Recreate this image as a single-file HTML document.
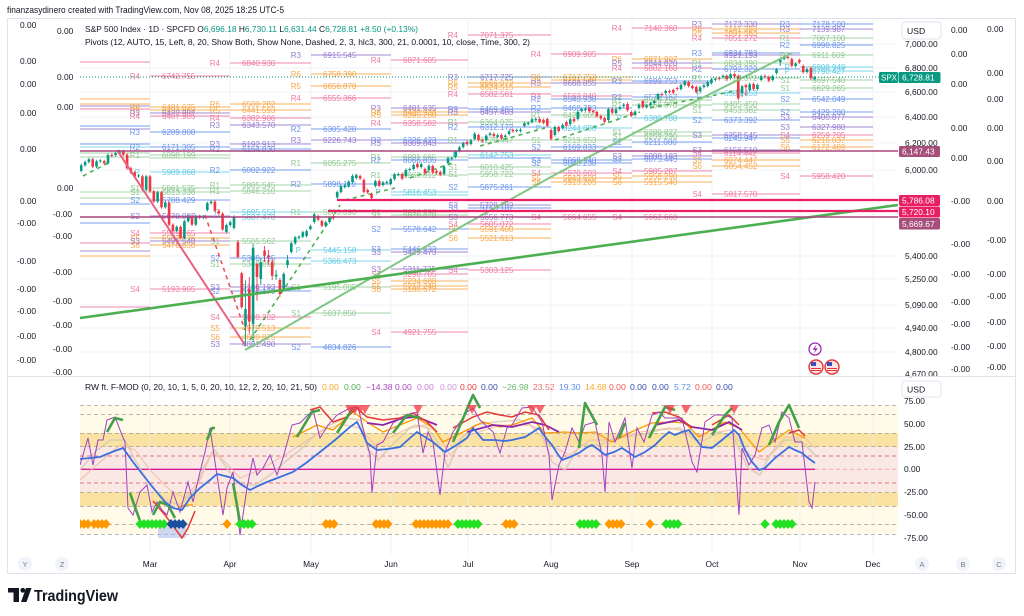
<!DOCTYPE html>
<html><head><meta charset="utf-8">
<style>
html,body{margin:0;padding:0;background:#fff;width:1024px;height:616px;overflow:hidden}
svg{display:block;font-family:"Liberation Sans",sans-serif}
text{font-family:"Liberation Sans",sans-serif}
.pv line{stroke-width:1}
.pv text{font-size:8px}
.lb{text-anchor:end}
line.pk{stroke:#f07ba3} text.pk{fill:#ee6e98}
line.or{stroke:#f9a94b} text.or{fill:#f5a03c}
line.pu{stroke:#9a7fd1} text.pu{fill:#8c6fca}
line.bl{stroke:#6b95ec} text.bl{fill:#5f8ae8}
line.gr{stroke:#9ccf9e} text.gr{fill:#86c489}
line.cy{stroke:#6fd3e8} text.cy{fill:#55c6df}
.ax{font-size:8.4px;fill:#131722}
.sc{font-size:8.4px;fill:#131722}
</style></head>
<body>
<svg width="1024" height="616" viewBox="0 0 1024 616" xmlns="http://www.w3.org/2000/svg">
<defs>
<clipPath id="cm"><rect x="80" y="19" width="818" height="357"/></clipPath>
<clipPath id="ci"><rect x="80" y="377" width="818" height="177"/></clipPath>
</defs>
<rect width="1024" height="616" fill="#fff"/>
<text x="7" y="13" font-size="9.5" fill="#131722" textLength="277" lengthAdjust="spacingAndGlyphs">finanzasydinero created with TradingView.com, Nov 08, 2025 18:25 UTC-5</text>
<rect x="7.5" y="18.5" width="1008" height="555" fill="#fff" stroke="#e0e3eb"/>

<!-- ===== MAIN PANE ===== -->
<g clip-path="url(#cm)">
<g stroke="#f0f3fa" stroke-width="1">
<line x1="80" y1="44" x2="898" y2="44"/><line x1="80" y1="68" x2="898" y2="68"/><line x1="80" y1="92" x2="898" y2="92"/><line x1="80" y1="117" x2="898" y2="117"/><line x1="80" y1="143" x2="898" y2="143"/><line x1="80" y1="170" x2="898" y2="170"/><line x1="80" y1="256" x2="898" y2="256"/><line x1="80" y1="279" x2="898" y2="279"/><line x1="80" y1="305" x2="898" y2="305"/><line x1="80" y1="328" x2="898" y2="328"/><line x1="80" y1="352" x2="898" y2="352"/>
<line x1="150" y1="19" x2="150" y2="376"/><line x1="230" y1="19" x2="230" y2="376"/><line x1="311" y1="19" x2="311" y2="376"/><line x1="391" y1="19" x2="391" y2="376"/><line x1="468" y1="19" x2="468" y2="376"/><line x1="551" y1="19" x2="551" y2="376"/><line x1="632" y1="19" x2="632" y2="376"/><line x1="712" y1="19" x2="712" y2="376"/><line x1="800" y1="19" x2="800" y2="376"/><line x1="873" y1="19" x2="873" y2="376"/>
</g>

<g class="pv" opacity="0.9">
<!-- block0 -->
<line class="pk" x1="80" x2="150" y1="62" y2="62"/><line class="or" x1="80" x2="150" y1="99" y2="99"/><line class="or" x1="80" x2="150" y1="104" y2="104"/><line class="pu" x1="80" x2="150" y1="106" y2="106"/><line class="pk" x1="80" x2="150" y1="109" y2="109"/><line class="bl" x1="80" x2="150" y1="126" y2="126"/><line class="pu" x1="80" x2="150" y1="129" y2="129"/><line class="bl" x1="80" x2="150" y1="144" y2="144"/><line class="cy" x1="80" x2="150" y1="147" y2="147"/><line class="gr" x1="80" x2="150" y1="153" y2="153"/><line class="gr" x1="80" x2="150" y1="157" y2="157"/><line class="gr" x1="80" x2="150" y1="192" y2="192"/><line class="gr" x1="80" x2="150" y1="198" y2="198"/><line class="bl" x1="80" x2="150" y1="204" y2="204"/><line class="bl" x1="80" x2="150" y1="223" y2="223"/><line class="pk" x1="80" x2="150" y1="243" y2="243"/><line class="pu" x1="80" x2="150" y1="251" y2="251"/><line class="or" x1="80" x2="150" y1="256" y2="256"/><line class="pk" x1="80" x2="150" y1="307" y2="307"/>
<!-- block1 -->
<line class="pk" x1="150" x2="230" y1="76" y2="76"/><text class="pk lb" x="140" y="79">R4</text><text class="pk" x="162" y="79">6742.755</text>
<line class="or" x1="150" x2="230" y1="107" y2="107"/><text class="or lb" x="140" y="110">R6</text><text class="or" x="162" y="110">6481.075</text>
<line class="or" x1="150" x2="230" y1="110" y2="110"/><text class="or lb" x="140" y="113">R5</text><text class="or" x="162" y="113">6433.983</text>
<line class="pu" x1="150" x2="230" y1="113" y2="113"/><text class="pu lb" x="140" y="116">R3</text><text class="pu" x="162" y="116">6422.981</text>
<line class="pk" x1="150" x2="230" y1="116" y2="116"/><text class="pk lb" x="140" y="119">R4</text><text class="pk" x="162" y="119">6407.985</text>
<line class="bl" x1="150" x2="230" y1="132" y2="132"/><text class="bl lb" x="140" y="135">R3</text><text class="bl" x="162" y="135">6289.808</text>
<line class="bl" x1="150" x2="230" y1="147" y2="147"/><text class="bl lb" x="140" y="150">R2</text><text class="bl" x="162" y="150">6171.305</text>
<line class="gr" x1="150" x2="230" y1="155" y2="155"/><text class="gr lb" x="140" y="158">R1</text><text class="gr" x="162" y="158">6098.199</text>
<line class="gr" x1="150" x2="230" y1="158" y2="158"/>
<line class="cy" x1="150" x2="230" y1="172" y2="172"/><text class="cy lb" x="140" y="175">P</text><text class="cy" x="162" y="175">5989.868</text>
<line class="gr" x1="150" x2="230" y1="188" y2="188"/><text class="gr lb" x="140" y="191">S1</text><text class="gr" x="162" y="191">5861.535</text>
<line class="gr" x1="150" x2="230" y1="192" y2="192"/><text class="gr lb" x="140" y="195">S1</text><text class="gr" x="162" y="195">5813.336</text>
<line class="bl" x1="150" x2="230" y1="200" y2="200"/><text class="bl lb" x="140" y="203">S2</text><text class="bl" x="162" y="203">5788.429</text>
<line class="pu" x1="150" x2="230" y1="216" y2="216"/><text class="pu lb" x="140" y="219">S2</text><text class="pu" x="162" y="219">5670.087</text>
<line class="pk" x1="150" x2="230" y1="233" y2="233"/><text class="pk lb" x="140" y="236">S4</text><text class="pk" x="162" y="236">5529.765</text>
<line class="or" x1="150" x2="230" y1="238" y2="238"/><text class="or lb" x="140" y="241">S5</text><text class="or" x="162" y="241">5503.876</text>
<line class="pu" x1="150" x2="230" y1="241" y2="241"/><text class="pu lb" x="140" y="244">S3</text><text class="pu" x="162" y="244">5491.540</text>
<line class="or" x1="150" x2="230" y1="245" y2="245"/><text class="or lb" x="140" y="248">S6</text><text class="or" x="162" y="248">5478.650</text>
<line class="pk" x1="150" x2="230" y1="289" y2="289"/><text class="pk lb" x="140" y="292">S4</text><text class="pk" x="162" y="292">5193.905</text>
<!-- block2 -->
<line class="pk" x1="230" x2="311" y1="63" y2="63"/><text class="pk lb" x="220" y="66">R4</text><text class="pk" x="242" y="66">6840.930</text>
<line class="or" x1="230" x2="311" y1="104" y2="104"/><text class="or lb" x="220" y="107">R6</text><text class="or" x="242" y="107">6500.282</text>
<line class="or" x1="230" x2="311" y1="110" y2="110"/><text class="or lb" x="220" y="113">R5</text><text class="or" x="242" y="113">6441.593</text>
<line class="pk" x1="230" x2="311" y1="118" y2="118"/><text class="pk lb" x="220" y="121">R4</text><text class="pk" x="242" y="121">6382.906</text>
<line class="pu" x1="230" x2="311" y1="125" y2="125"/><text class="pu lb" x="220" y="128">R3</text><text class="pu" x="242" y="128">6343.570</text>
<line class="pu" x1="230" x2="311" y1="144" y2="144"/><text class="pu lb" x="220" y="147">R3</text><text class="pu" x="242" y="147">6192.913</text>
<line class="bl" x1="230" x2="311" y1="149" y2="149"/><text class="bl lb" x="220" y="152">R2</text><text class="bl" x="242" y="152">6164.830</text>
<line class="bl" x1="230" x2="311" y1="170" y2="170"/><text class="bl lb" x="220" y="173">R2</text><text class="bl" x="242" y="173">6002.922</text>
<line class="gr" x1="230" x2="311" y1="185" y2="185"/><text class="gr lb" x="220" y="188">R1</text><text class="gr" x="242" y="188">5885.545</text>
<line class="gr" x1="230" x2="311" y1="191" y2="191"/><text class="gr lb" x="220" y="194">R1</text><text class="gr" x="242" y="194">5846.210</text>
<line class="cy" x1="230" x2="311" y1="212" y2="212"/><text class="cy lb" x="220" y="215">P</text><text class="cy" x="242" y="215">5695.553</text>
<line class="cy" x1="230" x2="311" y1="217" y2="217"/><text class="cy" x="242" y="220">5687.478</text>
<line class="gr" x1="230" x2="311" y1="241" y2="241"/><text class="gr lb" x="220" y="244">S1</text><text class="gr" x="242" y="244">5505.562</text>
<line class="bl" x1="230" x2="311" y1="258" y2="258"/><text class="bl lb" x="220" y="261">S2</text><text class="bl" x="242" y="261">5388.195</text>
<line class="gr" x1="230" x2="311" y1="264" y2="264"/><text class="gr lb" x="220" y="267">S1</text><text class="gr" x="242" y="267">5349.859</text>
<line class="pu" x1="230" x2="311" y1="287" y2="287"/><text class="pu lb" x="220" y="290">S3</text><text class="pu" x="242" y="290">5188.193</text>
<line class="bl" x1="230" x2="311" y1="291" y2="291"/><text class="bl lb" x="220" y="294">S2</text><text class="bl" x="242" y="294">5174.179</text>
<line class="pk" x1="230" x2="311" y1="317" y2="317"/><text class="pk lb" x="220" y="320">S4</text><text class="pk" x="242" y="320">5038.202</text>
<line class="or" x1="230" x2="311" y1="328" y2="328"/><text class="or lb" x="220" y="331">S5</text><text class="or" x="242" y="331">4979.513</text>
<line class="or" x1="230" x2="311" y1="337" y2="337"/><text class="or lb" x="220" y="340">S6</text><text class="or" x="242" y="340">4890.825</text>
<line class="pu" x1="230" x2="311" y1="344" y2="344"/><text class="pu lb" x="220" y="347">S3</text><text class="pu" x="242" y="347">4881.490</text>
<!-- block3 -->
<line class="pu" x1="311" x2="391" y1="55" y2="55"/><text class="pu lb" x="301" y="58">R3</text><text class="pu" x="323" y="58">6915.545</text>
<line class="or" x1="311" x2="391" y1="74" y2="74"/><text class="or lb" x="301" y="77">R6</text><text class="or" x="323" y="77">6758.390</text>
<line class="or" x1="311" x2="391" y1="86" y2="86"/><text class="or lb" x="301" y="89">R5</text><text class="or" x="323" y="89">6656.878</text>
<line class="pk" x1="311" x2="391" y1="98" y2="98"/><text class="pk lb" x="301" y="101">R4</text><text class="pk" x="323" y="101">6555.366</text>
<line class="bl" x1="311" x2="391" y1="129" y2="129"/><text class="bl lb" x="301" y="132">R2</text><text class="bl" x="323" y="132">6305.428</text>
<line class="pu" x1="311" x2="391" y1="140" y2="140"/><text class="pu lb" x="301" y="143">R3</text><text class="pu" x="323" y="143">6226.743</text>
<line class="gr" x1="311" x2="391" y1="163" y2="163"/><text class="gr lb" x="301" y="166">R1</text><text class="gr" x="323" y="166">6055.275</text>
<line class="bl" x1="311" x2="391" y1="184" y2="184"/><text class="bl lb" x="301" y="187">R2</text><text class="bl" x="323" y="187">5898.110</text>
<line class="gr" x1="311" x2="391" y1="212" y2="212"/><text class="gr lb" x="301" y="215">R1</text><text class="gr" x="323" y="215">5803.096</text>
<line class="cy" x1="311" x2="391" y1="250" y2="250"/><text class="cy lb" x="301" y="253">P</text><text class="cy" x="323" y="253">5445.158</text>
<line class="cy" x1="311" x2="391" y1="261" y2="261"/><text class="cy" x="323" y="264">5366.473</text>
<line class="gr" x1="311" x2="391" y1="287" y2="287"/><text class="gr lb" x="301" y="290">S1</text><text class="gr" x="323" y="290">5195.005</text>
<line class="gr" x1="311" x2="391" y1="313" y2="313"/><text class="gr lb" x="301" y="316">S1</text><text class="gr" x="323" y="316">5037.850</text>
<line class="bl" x1="311" x2="391" y1="347" y2="347"/><text class="bl lb" x="301" y="350">S2</text><text class="bl" x="323" y="350">4834.826</text>
<!-- block4 -->
<line class="pk" x1="391" x2="468" y1="60" y2="60"/><text class="pk lb" x="381" y="63">R4</text><text class="pk" x="403" y="63">6871.605</text>
<line class="pu" x1="391" x2="468" y1="108" y2="108"/><text class="pu lb" x="381" y="111">R3</text><text class="pu" x="403" y="111">6481.635</text>
<line class="or" x1="391" x2="468" y1="112" y2="112"/><text class="or lb" x="381" y="115">R6</text><text class="or" x="403" y="115">6430.938</text>
<line class="or" x1="391" x2="468" y1="115" y2="115"/><text class="or lb" x="381" y="118">R5</text><text class="or" x="403" y="118">6395.260</text>
<line class="pk" x1="391" x2="468" y1="123" y2="123"/><text class="pk lb" x="381" y="126">R4</text><text class="pk" x="403" y="126">6358.582</text>
<line class="bl" x1="391" x2="468" y1="140" y2="140"/><text class="bl lb" x="381" y="143">R2</text><text class="bl" x="403" y="143">6326.423</text>
<line class="pu" x1="391" x2="468" y1="143" y2="143"/><text class="pu lb" x="381" y="146">R3</text><text class="pu" x="403" y="146">6309.843</text>
<line class="gr" x1="391" x2="468" y1="157" y2="157"/><text class="gr lb" x="381" y="160">R1</text><text class="gr" x="403" y="160">6091.665</text>
<line class="bl" x1="391" x2="468" y1="160" y2="160"/><text class="bl lb" x="381" y="163">R2</text><text class="bl" x="403" y="163">6066.835</text>
<line class="gr" x1="391" x2="468" y1="175" y2="175"/><text class="gr lb" x="381" y="178">R1</text><text class="gr" x="403" y="178">5968.812</text>
<line class="cy" x1="391" x2="468" y1="192" y2="192"/><text class="cy lb" x="381" y="195">P</text><text class="cy" x="403" y="195">5816.453</text>
<line class="cy" x1="391" x2="468" y1="195" y2="195"/>
<line class="gr" x1="391" x2="468" y1="212" y2="212"/><text class="gr lb" x="381" y="215">S1</text><text class="gr" x="403" y="215">5696.298</text>
<line class="gr" x1="391" x2="468" y1="215" y2="215"/><text class="gr lb" x="381" y="218">S1</text><text class="gr" x="403" y="218">5676.878</text>
<line class="bl" x1="391" x2="468" y1="229" y2="229"/><text class="bl lb" x="381" y="232">S2</text><text class="bl" x="403" y="232">5578.642</text>
<line class="bl" x1="391" x2="468" y1="249" y2="249"/><text class="bl lb" x="381" y="252">S3</text><text class="bl" x="403" y="252">5446.433</text>
<line class="pu" x1="391" x2="468" y1="252" y2="252"/><text class="pu lb" x="381" y="255">S3</text><text class="pu" x="403" y="255">5429.473</text>
<line class="pu" x1="391" x2="468" y1="269" y2="269"/><text class="pu lb" x="381" y="272">S3</text><text class="pu" x="403" y="272">5311.725</text>
<line class="pk" x1="391" x2="468" y1="274" y2="274"/><text class="pk lb" x="381" y="277">S4</text><text class="pk" x="403" y="277">5290.705</text>
<line class="or" x1="391" x2="468" y1="281" y2="281"/><text class="or lb" x="381" y="284">S5</text><text class="or" x="403" y="284">5234.688</text>
<line class="or" x1="391" x2="468" y1="286" y2="286"/><text class="or lb" x="381" y="289">S5</text><text class="or" x="403" y="289">5212.240</text>
<line class="or" x1="391" x2="468" y1="289" y2="289"/><text class="or lb" x="381" y="292">S6</text><text class="or" x="403" y="292">5188.672</text>
<line class="pk" x1="391" x2="468" y1="332" y2="332"/><text class="pk lb" x="381" y="335">S4</text><text class="pk" x="403" y="335">4921.755</text>
<!-- block5 -->
<line class="pk" x1="468" x2="551" y1="35" y2="35"/><text class="pk lb" x="458" y="38">R4</text><text class="pk" x="480" y="38">7071.375</text>
<line class="pu" x1="468" x2="551" y1="77" y2="77"/><text class="pu lb" x="458" y="80">R3</text><text class="pu" x="480" y="80">6717.725</text>
<line class="or" x1="468" x2="551" y1="83" y2="83"/><text class="or lb" x="458" y="86">R6</text><text class="or" x="480" y="86">6666.072</text>
<line class="or" x1="468" x2="551" y1="87" y2="87"/><text class="or lb" x="458" y="90">R5</text><text class="or" x="480" y="90">6624.515</text>
<line class="pk" x1="468" x2="551" y1="94" y2="94"/><text class="pk lb" x="458" y="97">R4</text><text class="pk" x="480" y="97">6582.561</text>
<line class="bl" x1="468" x2="551" y1="109" y2="109"/><text class="bl lb" x="458" y="112">R3</text><text class="bl" x="480" y="112">6469.483</text>
<line class="pu" x1="468" x2="551" y1="112" y2="112"/><text class="pu lb" x="458" y="115">R3</text><text class="pu" x="480" y="115">6457.483</text>
<line class="gr" x1="468" x2="551" y1="122" y2="122"/><text class="gr lb" x="458" y="125">R1</text><text class="gr" x="480" y="125">6364.075</text>
<line class="bl" x1="468" x2="551" y1="127" y2="127"/><text class="bl lb" x="458" y="130">R2</text><text class="bl" x="480" y="130">6312.172</text>
<line class="gr" x1="468" x2="551" y1="140" y2="140"/><text class="gr lb" x="458" y="143">R1</text><text class="gr" x="480" y="143">6228.447</text>
<line class="cy" x1="468" x2="551" y1="155" y2="155"/><text class="cy lb" x="458" y="158">P</text><text class="cy" x="480" y="158">6142.753</text>
<line class="bl" x1="468" x2="551" y1="158" y2="158"/>
<line class="gr" x1="468" x2="551" y1="167" y2="167"/><text class="gr lb" x="458" y="170">S1</text><text class="gr" x="480" y="170">6010.425</text>
<line class="gr" x1="468" x2="551" y1="174" y2="174"/><text class="gr lb" x="458" y="177">S1</text><text class="gr" x="480" y="177">5958.722</text>
<line class="bl" x1="468" x2="551" y1="187" y2="187"/><text class="bl lb" x="458" y="190">S2</text><text class="bl" x="480" y="190">5875.261</text>
<line class="pu" x1="468" x2="551" y1="205" y2="205"/><text class="pu lb" x="458" y="208">S3</text><text class="pu" x="480" y="208">5728.182</text>
<line class="bl" x1="468" x2="551" y1="208" y2="208"/><text class="bl lb" x="458" y="211">S3</text><text class="bl" x="480" y="211">5718.187</text>
<line class="pu" x1="468" x2="551" y1="217" y2="217"/><text class="pu lb" x="458" y="220">S3</text><text class="pu" x="480" y="220">5656.773</text>
<line class="pk" x1="468" x2="551" y1="224" y2="224"/><text class="pk lb" x="458" y="227">S4</text><text class="pk" x="480" y="227">5605.072</text>
<line class="or" x1="468" x2="551" y1="229" y2="229"/><text class="or lb" x="458" y="232">S5</text><text class="or" x="480" y="232">5591.400</text>
<line class="or" x1="468" x2="551" y1="238" y2="238"/><text class="or lb" x="458" y="241">S6</text><text class="or" x="480" y="241">5521.613</text>
<line class="pk" x1="468" x2="551" y1="270" y2="270"/><text class="pk lb" x="458" y="273">S4</text><text class="pk" x="480" y="273">5303.125</text>
<!-- block6 -->
<line class="pk" x1="551" x2="632" y1="54" y2="54"/><text class="pk lb" x="541" y="57">R4</text><text class="pk" x="563" y="57">6909.905</text>
<line class="or" x1="551" x2="632" y1="77" y2="77"/><text class="or lb" x="541" y="80">R6</text><text class="or" x="563" y="80">6717.753</text>
<line class="or" x1="551" x2="632" y1="80" y2="80"/><text class="or lb" x="541" y="83">R5</text><text class="or" x="563" y="83">6701.540</text>
<line class="pu" x1="551" x2="632" y1="83" y2="83"/><text class="pu lb" x="541" y="86">R3</text><text class="pu" x="563" y="86">6668.855</text>
<line class="pk" x1="551" x2="632" y1="96" y2="96"/><text class="pk lb" x="541" y="99">R3</text><text class="pk" x="563" y="99">6563.840</text>
<line class="bl" x1="551" x2="632" y1="99" y2="99"/><text class="bl lb" x="541" y="102">R2</text><text class="bl" x="563" y="102">6543.938</text>
<line class="bl" x1="551" x2="632" y1="108" y2="108"/><text class="bl lb" x="541" y="111">R2</text><text class="bl" x="563" y="111">6468.783</text>
<line class="gr" x1="551" x2="632" y1="115" y2="115"/><text class="gr lb" x="541" y="118">R1</text><text class="gr" x="563" y="118">6424.605</text>
<line class="cy" x1="551" x2="632" y1="128" y2="128"/><text class="cy lb" x="541" y="131">P</text><text class="cy" x="563" y="131">6244.888</text>
<line class="gr" x1="551" x2="632" y1="140" y2="140"/><text class="gr lb" x="541" y="143">S1</text><text class="gr" x="563" y="143">6219.653</text>
<line class="bl" x1="551" x2="632" y1="147" y2="147"/><text class="bl lb" x="541" y="150">S2</text><text class="bl" x="563" y="150">6169.833</text>
<line class="bl" x1="551" x2="632" y1="160" y2="160"/><text class="bl lb" x="541" y="163">S3</text><text class="bl" x="563" y="163">6068.740</text>
<line class="bl" x1="551" x2="632" y1="163" y2="163"/><text class="bl lb" x="541" y="166">S2</text><text class="bl" x="563" y="166">6048.238</text>
<line class="pk" x1="551" x2="632" y1="173" y2="173"/><text class="pk lb" x="541" y="176">S4</text><text class="pk" x="563" y="176">5970.603</text>
<line class="or" x1="551" x2="632" y1="178" y2="178"/><text class="or lb" x="541" y="181">S5</text><text class="or" x="563" y="181">5943.620</text>
<line class="or" x1="551" x2="632" y1="182" y2="182"/><text class="or lb" x="541" y="185">S6</text><text class="or" x="563" y="185">5913.205</text>
<line class="pk" x1="551" x2="632" y1="217" y2="217"/><text class="pk lb" x="541" y="220">S4</text><text class="pk" x="563" y="220">5664.655</text>
<!-- block7 -->
<line class="pk" x1="632" x2="712" y1="28" y2="28"/><text class="pk lb" x="622" y="31">R4</text><text class="pk" x="644" y="31">7140.360</text>
<line class="or" x1="632" x2="712" y1="59" y2="59"/><text class="or lb" x="622" y="62">R6</text><text class="or" x="644" y="62">6871.907</text>
<line class="pu" x1="632" x2="712" y1="63" y2="63"/><text class="pu lb" x="622" y="66">R5</text><text class="pu" x="644" y="66">6844.820</text>
<line class="pk" x1="632" x2="712" y1="68" y2="68"/><text class="pk lb" x="622" y="71">R4</text><text class="pk" x="644" y="71">6802.160</text>
<line class="bl" x1="632" x2="712" y1="81" y2="81"/><text class="bl lb" x="622" y="84">R3</text><text class="bl" x="644" y="84">6699.753</text>
<line class="pu" x1="632" x2="712" y1="83" y2="83"/>
<line class="bl" x1="632" x2="712" y1="97" y2="97"/><text class="bl lb" x="622" y="100">R2</text><text class="bl" x="644" y="100">6576.167</text>
<line class="gr" x1="632" x2="712" y1="100" y2="100"/><text class="gr lb" x="622" y="103">R1</text><text class="gr" x="644" y="103">6549.296</text>
<line class="gr" x1="632" x2="712" y1="105" y2="105"/><text class="gr lb" x="622" y="108">R1</text><text class="gr" x="644" y="108">6466.670</text>
<line class="cy" x1="632" x2="712" y1="118" y2="118"/><text class="cy lb" x="622" y="121">P</text><text class="cy" x="644" y="121">6380.788</text>
<line class="gr" x1="632" x2="712" y1="132" y2="132"/><text class="gr lb" x="622" y="135">S1</text><text class="gr" x="644" y="135">6280.827</text>
<line class="gr" x1="632" x2="712" y1="136" y2="136"/><text class="gr lb" x="622" y="139">S1</text><text class="gr" x="644" y="139">6259.290</text>
<line class="bl" x1="632" x2="712" y1="142" y2="142"/><text class="bl lb" x="622" y="145">S2</text><text class="bl" x="644" y="145">6211.080</text>
<line class="pu" x1="632" x2="712" y1="156" y2="156"/><text class="pu lb" x="622" y="159">S3</text><text class="pu" x="644" y="159">6088.183</text>
<line class="bl" x1="632" x2="712" y1="159" y2="159"/><text class="bl lb" x="622" y="162">S3</text><text class="bl" x="644" y="162">6075.445</text>
<line class="pk" x1="632" x2="712" y1="171" y2="171"/><text class="pk lb" x="622" y="174">S4</text><text class="pk" x="644" y="174">5985.287</text>
<line class="or" x1="632" x2="712" y1="176" y2="176"/><text class="or lb" x="622" y="179">S5</text><text class="or" x="644" y="179">5958.290</text>
<line class="or" x1="632" x2="712" y1="182" y2="182"/><text class="or lb" x="622" y="185">S6</text><text class="or" x="644" y="185">5915.540</text>
<line class="pk" x1="632" x2="712" y1="217" y2="217"/><text class="pk lb" x="622" y="220">S4</text><text class="pk" x="644" y="220">5662.660</text>
<!-- block8 -->
<line class="pu" x1="712" x2="800" y1="24" y2="24"/><text class="pu lb" x="702" y="27">R3</text><text class="pu" x="724" y="27">7173.330</text>
<line class="or" x1="712" x2="800" y1="29" y2="29"/><text class="or lb" x="702" y="32">R6</text><text class="or" x="724" y="32">7141.283</text>
<line class="or" x1="712" x2="800" y1="33" y2="33"/><text class="or lb" x="702" y="36">R5</text><text class="or" x="724" y="36">7091.563</text>
<line class="pk" x1="712" x2="800" y1="38" y2="38"/><text class="pk lb" x="702" y="41">R4</text><text class="pk" x="724" y="41">7051.272</text>
<line class="bl" x1="712" x2="800" y1="53" y2="53"/><text class="bl lb" x="702" y="56">R3</text><text class="bl" x="724" y="56">6924.793</text>
<line class="pu" x1="712" x2="800" y1="55" y2="55"/><text class="pu" x="724" y="58">6921.193</text>
<line class="gr" x1="712" x2="800" y1="63" y2="63"/><text class="gr lb" x="702" y="66">R1</text><text class="gr" x="724" y="66">6834.390</text>
<line class="bl" x1="712" x2="800" y1="69" y2="69"/><text class="bl lb" x="702" y="72">R2</text><text class="bl" x="724" y="72">6792.322</text>
<line class="gr" x1="712" x2="800" y1="78" y2="78"/><text class="gr lb" x="702" y="81">R1</text><text class="gr" x="724" y="81">6722.372</text>
<line class="cy" x1="712" x2="800" y1="93" y2="93"/><text class="cy lb" x="702" y="96">P</text><text class="cy" x="724" y="96">6588.453</text>
<line class="gr" x1="712" x2="800" y1="104" y2="104"/><text class="gr lb" x="702" y="107">S1</text><text class="gr" x="724" y="107">6485.450</text>
<line class="gr" x1="712" x2="800" y1="110" y2="110"/><text class="gr lb" x="702" y="113">S1</text><text class="gr" x="724" y="113">6453.382</text>
<line class="bl" x1="712" x2="800" y1="120" y2="120"/><text class="bl lb" x="702" y="123">S2</text><text class="bl" x="724" y="123">6373.392</text>
<line class="pu" x1="712" x2="800" y1="135" y2="135"/><text class="pu lb" x="702" y="138">S3</text><text class="pu" x="724" y="138">6258.545</text>
<line class="bl" x1="712" x2="800" y1="138" y2="138"/><text class="bl" x="724" y="141">6245.947</text>
<line class="pu" x1="712" x2="800" y1="150" y2="150"/><text class="pu lb" x="702" y="153">S3</text><text class="pu" x="724" y="153">6156.510</text>
<line class="pk" x1="712" x2="800" y1="153" y2="153"/><text class="pk lb" x="702" y="156">S4</text><text class="pk" x="724" y="156">6114.442</text>
<line class="or" x1="712" x2="800" y1="160" y2="160"/><text class="or lb" x="702" y="163">S5</text><text class="or" x="724" y="163">6074.447</text>
<line class="or" x1="712" x2="800" y1="166" y2="166"/><text class="or lb" x="702" y="169">S6</text><text class="or" x="724" y="169">6054.452</text>
<line class="pk" x1="712" x2="800" y1="194" y2="194"/><text class="pk lb" x="702" y="197">S4</text><text class="pk" x="724" y="197">5817.570</text>
<!-- block9 -->
<line class="bl" x1="800" x2="873" y1="24" y2="24"/><text class="bl lb" x="790" y="27">R3</text><text class="bl" x="812" y="27">7178.500</text>
<line class="pu" x1="800" x2="873" y1="29" y2="29"/><text class="pu lb" x="790" y="32">R3</text><text class="pu" x="812" y="32">7139.987</text>
<line class="gr" x1="800" x2="873" y1="38" y2="38"/><text class="gr lb" x="790" y="41">R1</text><text class="gr" x="812" y="41">7067.100</text>
<line class="bl" x1="800" x2="873" y1="45" y2="45"/><text class="bl lb" x="790" y="48">R2</text><text class="bl" x="812" y="48">6998.825</text>
<line class="gr" x1="800" x2="873" y1="55" y2="55"/><text class="gr lb" x="790" y="58">R1</text><text class="gr" x="812" y="58">6911.609</text>
<line class="cy" x1="800" x2="873" y1="67" y2="67"/><text class="cy lb" x="790" y="70">P</text><text class="cy" x="812" y="70">6808.949</text>
<line class="cy" x1="800" x2="873" y1="71" y2="71"/><text class="cy lb" x="790" y="74">P</text><text class="cy" x="812" y="74">6790.427</text>
<line class="gr" x1="800" x2="873" y1="80" y2="80"/><text class="gr lb" x="790" y="83">S1</text><text class="gr" x="812" y="83">6697.540</text>
<line class="gr" x1="800" x2="873" y1="88" y2="88"/><text class="gr lb" x="790" y="91">S1</text><text class="gr" x="812" y="91">6629.265</text>
<line class="bl" x1="800" x2="873" y1="99" y2="99"/><text class="bl lb" x="790" y="102">S2</text><text class="bl" x="812" y="102">6542.049</text>
<line class="bl" x1="800" x2="873" y1="112" y2="112"/><text class="bl lb" x="790" y="115">S2</text><text class="bl" x="812" y="115">6429.280</text>
<line class="pu" x1="800" x2="873" y1="117" y2="117"/><text class="pu lb" x="790" y="120">S3</text><text class="pu" x="812" y="120">6400.877</text>
<line class="pu" x1="800" x2="873" y1="127" y2="127"/><text class="pu lb" x="790" y="130">S3</text><text class="pu" x="812" y="130">6327.980</text>
<line class="pk" x1="800" x2="873" y1="135" y2="135"/><text class="pk lb" x="790" y="138">S4</text><text class="pk" x="812" y="138">6259.705</text>
<line class="or" x1="800" x2="873" y1="140" y2="140"/><text class="or lb" x="790" y="143">S5</text><text class="or" x="812" y="143">6216.037</text>
<line class="or" x1="800" x2="873" y1="147" y2="147"/><text class="or lb" x="790" y="150">S6</text><text class="or" x="812" y="150">6172.489</text>
<line class="pk" x1="800" x2="873" y1="176" y2="176"/><text class="pk lb" x="790" y="179">S4</text><text class="pk" x="812" y="179">5958.420</text>
</g>

<!-- dashed helper lines -->
<g fill="none" stroke-width="1.6" stroke-dasharray="4 4">
<path d="M83 176L110 162" stroke="#4caf50"/>
<path d="M250 340L340 205" stroke="#4caf50"/>
<path d="M345 200L395 188" stroke="#4caf50"/>
<path d="M410 178L455 162" stroke="#4caf50"/>
<path d="M480 146L545 128" stroke="#4caf50"/>
<path d="M555 140L640 112" stroke="#4caf50"/>
<path d="M650 108L740 90" stroke="#4caf50"/>
<path d="M205 215L245 330" stroke="#ef5350"/>
</g>

<!-- candles -->
<path fill="none" stroke="#089981" stroke-width="0.9" d="M81.2 163.7V172.4M85.1 160.5V166.7M88.9 157.7V163.5M96.5 159.9V168.1M100.3 158.9V162.9M108 153.5V164.7M115.6 151.7V156.6M119.4 149.7V154.7M138.5 173.9V177.9M146.2 174.9V191.3M157.6 190.9V203M165.3 201.1V208.7M176.7 225.4V232.2M184.4 219.7V239.4M188.2 214.6V222.7M195.8 214.6V226.1M203.5 215.3V219.3M207.3 201.6V211.5M211.1 200.1V204.6M226.4 223.5V233.5M230.2 220.6V226.5M234 215.2V229.5M245.5 280.4V346M253.1 243.9V342.4M260.8 258V285M276.1 270V280M283.7 272.4V291.5M287.5 255V268M291.3 241.8V253.5M295.2 235.9V244.8M299 235.3V239.5M302.8 230.8V238.3M306.6 229.6V237.5M310.4 224.7V230.5M314.3 212.9V223.5M325.7 220.8V227.2M329.5 216.2V223.5M337.2 190.6V198.9M341 184.7V193.5M344.8 183.8V188.5M348.6 180.4V187.5M352.5 174.4V183.5M356.3 173.6V179.5M375.4 179.6V187.5M383 181V186.5M386.8 180.5V184.5M390.7 177.6V185.5M394.5 172.8V180.5M398.3 172.5V176.5M405.9 168.5V177.5M409.8 167.5V171.5M413.6 163.4V170.5M421.2 162.6V168.5M428.9 164.2V171.5M444.1 165.2V175.5M448 156.5V164.5M451.8 156.5V160.5M455.6 150.1V158.5M459.4 145.9V152.5M463.2 141.8V148.5M470.9 138.9V145.5M474.7 132.1V140.5M486.2 134.2V141.5M490 132V136.5M497.6 133.6V138.5M505.3 134.1V138.5M509.1 129.8V135.5M516.7 128.5V132.5M520.5 128.2V132.5M524.4 121.7V127.5M528.2 121.2V125.5M532 117.8V123.5M535.8 117.5V121.5M554.9 125.5V136.5M562.6 123.5V129.5M570.2 117.8V125.5M577.8 110.4V120.5M581.7 107.7V112.5M585.5 107.3V111.5M608.4 107.6V121.5M616 107.7V114.5M619.9 105.8V110.5M623.7 103.1V107.5M635.1 110.1V116.5M639 103.1V109.5M646.6 104V108.5M650.4 101.9V106.5M654.2 99.5V104.5M658.1 92.7V100.5M665.7 89.5V94.5M681 83.5V90.5M684.8 80V86.5M700.1 85.9V92.5M703.9 83.9V88.5M707.7 80.6V87.5M711.5 77.9V84.5M715.4 77.5V81.5M723 74.4V78.5M730.6 72.8V79.5M742.1 84.7V97M749.7 82.7V91.5M757.4 83.5V90.5M761.2 74.8V81.5M772.7 74.6V81.5M776.5 68V74.5M780.3 58V66M784.1 56.1V60.5M795.6 62.2V67.5M807 67.6V73.5M814.7 75.8V80.5"/>
<path fill="none" stroke="#089981" stroke-width="2.6" d="M81.2 170.9V165.2M85.1 165.2V162M88.9 162V159.2M96.5 166.6V161.4M100.3 161.4V160.4M108 163.2V155M115.6 155.1V153.2M119.4 153.2V151.2M138.5 176.4V175.4M146.2 189.8V176.4M157.6 201.5V192.4M165.3 207.2V202.6M176.7 230.7V226.9M184.4 237.9V221.2M188.2 221.2V216.1M195.8 224.6V216.1M203.5 217.8V216.8M207.3 210V203.1M211.1 203.1V201.6M226.4 232V225M230.2 225V222.1M234 228V216.7M245.5 326.4V309M253.1 324.1V247.7M260.8 278.9V262.3M276.1 276.5V274.7M283.7 290V273.9M287.5 265V260.3M291.3 252V243.3M295.2 243.3V237.4M299 238V236.8M302.8 236.8V232.3M306.6 236V231.1M310.4 229V226.2M314.3 222V214.4M325.7 225.7V222.3M329.5 222V217.7M337.2 197.4V192.1M341 192V186.2M344.8 187V185.3M348.6 186V181.9M352.5 182V175.9M356.3 178V175.1M375.4 186V181.1M383 185V182.5M386.8 183V182M390.7 184V179.1M394.5 179V174.3M398.3 175V174M405.9 176V170M409.8 170V169M413.6 169V164.9M421.2 167V164.1M428.9 170V165.7M444.1 174V166.7M448 163V158M451.8 159V158M455.6 157V151.6M459.4 151V147.4M463.2 147V143.3M470.9 144V140.4M474.7 139V133.6M486.2 140V135.7M490 135V133.5M497.6 137V135.1M505.3 137V135.6M509.1 134V131.3M516.7 131V130M520.5 131V129.7M524.4 126V123.2M528.2 124V122.7M532 122V119.3M535.8 120V119M554.9 135V127M562.6 128V125M570.2 124V119.3M577.8 119V111.9M581.7 111V109.2M585.5 110V108.8M608.4 120V109.1M616 113V109.2M619.9 109V107.3M623.7 106V104.6M635.1 115V111.6M639 108V104.6M646.6 107V105.5M650.4 105V103.4M654.2 103V101M658.1 99V94.2M665.7 93V91M681 89V85M684.8 85V81.5M700.1 91V87.4M703.9 87V85.4M707.7 86V82.1M711.5 83V79.4M715.4 80V79M723 77V75.9M730.6 78V74.3M742.1 93V86.2M749.7 90V84.2M757.4 89V85M761.2 80V76.3M772.7 80V76.1M776.5 73V69.5M780.3 62V59.5M784.1 59V57.6M795.6 66V63.7M807 72V69.1M814.7 79V77.3"/>
<path fill="none" stroke="#f23645" stroke-width="0.9" d="M92.7 157.7V168.1M104.2 159.6V164.7M111.8 153.5V157.5M123.3 149.7V156.2M127.1 153.2V169.8M130.9 166.8V174M134.7 171V177.9M142.4 174.8V191.3M150 174.9V192.8M153.8 189.8V203M161.5 190.9V208.7M169.1 201.1V226.2M172.9 223.2V232.2M180.6 225.4V239.4M192 214.6V226.1M199.7 214.6V219.3M214.9 200.1V212.4M218.8 209.4V215.1M222.6 212.1V230.9M237.9 240V258.5M241.7 271.8V308.6M249.3 277V333.6M257 263V300.8M264.6 246V262M268.4 250V265M272.2 258V280M279.9 278V297M318.1 214.5V221.1M321.9 219.5V227.2M333.4 214.5V219.7M360.1 174.5V180M363.9 178.5V193.4M367.7 188.5V193.9M371.6 192.5V199.5M379.2 179.5V187.3M402.1 172.5V180.1M417.4 162.5V168.6M425 167.5V174.8M432.7 164.5V174.1M436.5 169.5V174.2M440.3 170.5V176.2M467.1 140.5V145.7M478.5 133.5V141.5M482.3 138.5V142.5M493.8 132.5V137.6M501.4 133.5V139.7M512.9 128.5V132.8M539.6 117.5V123.2M543.5 118.5V124.3M547.3 117.5V127.3M551.1 128.5V140.5M558.7 125.5V132.5M566.4 120.5V127.2M574 117.5V122.7M589.3 106.5V112.8M593.1 109.5V113.5M596.9 110.5V117.9M600.8 114.5V119.9M604.6 116.5V123.3M612.2 107.5V114.3M627.5 102.5V111.6M631.3 110.5V117.3M642.8 99.5V108.7M661.9 92.5V96.5M669.5 89.5V93.6M673.3 88.5V94.2M677.2 86.5V90.5M688.6 80.5V87.5M692.4 84.5V89.6M696.3 85.5V93.6M719.2 76.5V80.5M726.8 74.5V80.5M734.5 72.5V78M738.3 74.5V100M745.9 83.5V96M753.6 82.5V90.6M765 74.5V78.5M768.8 75.5V82.3M787.9 55.5V59.5M791.8 57.5V67.4M799.4 58.5V63.8M803.2 64.5V73.6M810.9 66.5V79.8"/>
<path fill="none" stroke="#f23645" stroke-width="2.6" d="M92.7 159.2V166.6M104.2 161.1V163.2M111.8 155V156M123.3 151.2V154.7M127.1 154.7V168.3M130.9 168.3V172.5M134.7 172.5V176.4M142.4 176.3V189.8M150 176.4V191.3M153.8 191.3V201.5M161.5 192.4V207.2M169.1 202.6V224.7M172.9 224.7V230.7M180.6 226.9V237.9M192 216.1V224.6M199.7 216.1V217.8M214.9 201.6V210.9M218.8 210.9V213.6M222.6 213.6V229.4M237.9 242.2V257M241.7 273.3V307.1M249.3 288.6V321.6M257 263.9V277M264.6 250.5V255.6M268.4 255.6V257M272.2 262V275.8M279.9 280V294.1M318.1 216V219.6M321.9 221V225.7M333.4 216V218.2M360.1 176V178.5M363.9 180V191.9M367.7 190V192.4M371.6 194V198M379.2 181V185.8M402.1 174V178.6M417.4 164V167.1M425 169V173.3M432.7 166V172.6M436.5 171V172.7M440.3 172V174.7M467.1 142V144.2M478.5 135V140M482.3 140V141M493.8 134V136.1M501.4 135V138.2M512.9 130V131.3M539.6 119V121.7M543.5 120V122.8M547.3 119V125.8M551.1 130V139M558.7 127V131M566.4 122V125.7M574 119V121.2M589.3 108V111.3M593.1 111V112M596.9 112V116.4M600.8 116V118.4M604.6 118V121.8M612.2 109V112.8M627.5 104V110.1M631.3 112V115.8M642.8 101V107.2M661.9 94V95M669.5 91V92.1M673.3 90V92.7M677.2 88V89M688.6 82V86M692.4 86V88.1M696.3 87V92.1M719.2 78V79M726.8 76V79M734.5 74V76.5M738.3 76V98.4M745.9 85V87.4M753.6 84V89.1M765 76V77M768.8 77V80.8M787.9 57V58M791.8 59V65.9M799.4 60V62.3M803.2 66V72.1M810.9 68V78.3"/>

<!-- trend lines -->
<line x1="117" y1="150" x2="245" y2="345" stroke="#e8607f" stroke-width="2"/>
<polyline points="245,350 253,346 437,240 560,172 690,104 792,53" fill="none" stroke="#81c784" stroke-width="2"/>
<line x1="80" y1="318" x2="898" y2="205" stroke="#4caf50" stroke-width="2.6"/>

<!-- horizontal levels -->
<line x1="80" y1="77" x2="880" y2="77" stroke="#089981" stroke-width="1" stroke-dasharray="1 2"/>
<line x1="80" y1="151" x2="898" y2="151" stroke="#a8467c" stroke-width="1.6"/>
<line x1="337" y1="200" x2="898" y2="200" stroke="#e91e63" stroke-width="2.2"/>
<line x1="328" y1="211" x2="898" y2="211" stroke="#e91e63" stroke-width="2.2"/>
<line x1="80" y1="217" x2="898" y2="217" stroke="#a8467c" stroke-width="1.6"/>

<!-- event icons -->
<circle cx="815" cy="349" r="6" fill="#fff" stroke="#9c27b0" stroke-width="1.3"/>
<path d="M816.5 344.5L812.5 349.8H815.2L813.8 353.6L817.8 348.2H815.1Z" fill="#9c27b0"/>
<circle cx="816" cy="367" r="7" fill="#fbe3e6" stroke="#e53935" stroke-width="1.4"/>
<circle cx="832" cy="367" r="7" fill="#fbe3e6" stroke="#e53935" stroke-width="1.4"/>
<rect x="811" y="362" width="5" height="4" fill="#3f51b5"/><rect x="827" y="362" width="5" height="4" fill="#3f51b5"/>
<path d="M811 368.5H821M811 370.5H821M827 368.5H837M827 370.5H837" stroke="#e53935" stroke-width="1"/>
</g>

<!-- main legend -->
<text x="85" y="32" font-size="8.6" fill="#131722" textLength="333" lengthAdjust="spacingAndGlyphs">S&amp;P 500 Index · 1D · SPCFD  O<tspan fill="#089981">6,696.18</tspan>  H<tspan fill="#089981">6,730.11</tspan>  L<tspan fill="#089981">6,631.44</tspan>  C<tspan fill="#089981">6,728.81</tspan>  <tspan fill="#089981">+8.50 (+0.13%)</tspan></text>
<text x="85" y="45" font-size="8.6" fill="#131722" textLength="445" lengthAdjust="spacingAndGlyphs">Pivots (12, AUTO, 15, Left, 8, 20, Show Both, Show None, Dashed, 2, 3, hlc3, 300, 21, 0.0001, 10, close, Time, 300, 2)</text>

<!-- left scales -->
<g class="sc">
<text x="20" y="28">0.00</text><text x="20" y="64">0.00</text><text x="20" y="87">0.00</text><text x="20" y="116">0.00</text><text x="20" y="152">0.00</text><text x="20" y="204">0.00</text>
<text x="17" y="226">-0.00</text><text x="17" y="264">-0.00</text><text x="17" y="292">-0.00</text><text x="17" y="314">-0.00</text><text x="17" y="339">-0.00</text><text x="17" y="363">-0.00</text>
<text x="57" y="34">0.00</text><text x="57" y="80">0.00</text><text x="57" y="110">0.00</text><text x="57" y="191">0.00</text>
<text x="53" y="217">-0.00</text><text x="53" y="239">-0.00</text><text x="53" y="275">-0.00</text><text x="53" y="304">-0.00</text><text x="53" y="328">-0.00</text><text x="53" y="352">-0.00</text><text x="53" y="375">-0.00</text>
</g>

<!-- right price scale -->
<g class="sc">
<text x="905" y="47">7,000.00</text><text x="905" y="71">6,800.00</text><text x="905" y="95">6,600.00</text><text x="905" y="120">6,400.00</text><text x="905" y="146">6,200.00</text><text x="905" y="173">6,000.00</text><text x="905" y="259">5,400.00</text><text x="905" y="282">5,250.00</text><text x="905" y="308">5,090.00</text><text x="905" y="331">4,940.00</text><text x="905" y="355">4,800.00</text><text x="905" y="377">4,670.00</text>
<text x="951" y="33">0.00</text><text x="951" y="57">0.00</text><text x="951" y="87">0.00</text><text x="951" y="131">0.00</text><text x="951" y="161">0.00</text>
<text x="951" y="204">-0.00</text><text x="951" y="247">-0.00</text><text x="951" y="277">-0.00</text><text x="951" y="305">-0.00</text><text x="951" y="327">-0.00</text><text x="951" y="350">-0.00</text><text x="951" y="372">-0.00</text>
<text x="987" y="32">0.00</text><text x="987" y="76">0.00</text><text x="987" y="102">0.00</text><text x="987" y="131">0.00</text><text x="987" y="164">0.00</text><text x="987" y="204">0.00</text>
<text x="987" y="243">-0.00</text><text x="987" y="277">-0.00</text><text x="987" y="299">-0.00</text><text x="987" y="325">-0.00</text><text x="987" y="349">-0.00</text><text x="987" y="370">-0.00</text>
</g>
<rect x="902" y="22" width="39" height="17" rx="3" fill="#fff" stroke="#e0e3eb"/>
<text x="907" y="34" font-size="8.6" fill="#131722">USD</text>
<!-- badges -->
<rect x="879" y="72" width="19" height="11" rx="1.5" fill="#089981"/><text x="881" y="80.5" font-size="8" fill="#fff">SPX</text>
<rect x="898.5" y="72" width="42" height="11" rx="1.5" fill="#089981"/><text x="902" y="80.5" font-size="8.4" fill="#fff">6,728.81</text>
<rect x="899" y="146" width="41" height="11" rx="1.5" fill="#a64d79"/><text x="902" y="154.5" font-size="8.4" fill="#fff">6,147.43</text>
<rect x="899" y="195" width="41" height="11" rx="1.5" fill="#e91e63"/><text x="902" y="203.5" font-size="8.4" fill="#fff">5,786.08</text>
<rect x="899" y="206.5" width="41" height="11" rx="1.5" fill="#e91e63"/><text x="902" y="215" font-size="8.4" fill="#fff">5,720.10</text>
<rect x="899" y="218" width="41" height="11.5" rx="1.5" fill="#a64d79"/><text x="902" y="227" font-size="8.4" fill="#fff">5,669.67</text>

<!-- pane separator -->
<line x1="7" y1="376.5" x2="1016" y2="376.5" stroke="#e0e3eb"/>

<!-- ===== INDICATOR PANE ===== -->
<g clip-path="url(#ci)">
<rect x="80" y="405" width="818" height="129" fill="#fffbe8"/>
<rect x="80" y="433" width="818" height="14" fill="#fae3a2"/>
<rect x="80" y="492" width="818" height="14" fill="#fae3a2"/>
<rect x="80" y="447" width="818" height="45" fill="#f9e8e4"/>
<g stroke="#eceff5" stroke-width="1" opacity="0.8">
<line x1="150" y1="377" x2="150" y2="554"/><line x1="230" y1="377" x2="230" y2="554"/><line x1="311" y1="377" x2="311" y2="554"/><line x1="391" y1="377" x2="391" y2="554"/><line x1="468" y1="377" x2="468" y2="554"/><line x1="551" y1="377" x2="551" y2="554"/><line x1="632" y1="377" x2="632" y2="554"/><line x1="712" y1="377" x2="712" y2="554"/><line x1="800" y1="377" x2="800" y2="554"/><line x1="873" y1="377" x2="873" y2="554"/>
</g>
<g stroke="#9e9e9e" stroke-width="0.8" stroke-dasharray="4 3">
<line x1="80" y1="405.5" x2="898" y2="405.5"/><line x1="80" y1="414.5" x2="898" y2="414.5"/><line x1="80" y1="433.5" x2="898" y2="433.5"/><line x1="80" y1="446.5" x2="898" y2="446.5"/><line x1="80" y1="492.5" x2="898" y2="492.5"/><line x1="80" y1="506.5" x2="898" y2="506.5"/><line x1="80" y1="524.5" x2="898" y2="524.5"/><line x1="80" y1="534.5" x2="898" y2="534.5"/>
</g>
<g stroke="#e57373" stroke-width="0.9" stroke-dasharray="4 3">
<line x1="80" y1="456" x2="898" y2="456"/><line x1="80" y1="483" x2="898" y2="483"/><line x1="815" y1="469.3" x2="898" y2="469.3" stroke="#f3a0b8"/>
</g>
<line x1="80" y1="469.3" x2="815" y2="469.3" stroke="#d81b9c" stroke-width="1.3"/>

<rect x="158" y="526" width="28" height="12" fill="#aab8f0" opacity="0.55"/>

<polyline fill="none" stroke="#d7cbb0" stroke-width="1.6" opacity="0.85" points="80,470 95,452 110,440 125,440 135,460 150,485 165,500 180,505 195,490 205,465 215,450 228,470 240,485 255,485 270,475 285,462 300,450 315,435 330,425 345,418 360,420 368,450 378,460 395,442 410,428 425,425 440,445 448,468 460,440 475,425 495,422 520,420 540,430 552,462 565,470 580,445 600,445 615,438 640,435 660,430 680,428 695,440 705,440 720,432 735,440 748,468 760,475 770,455 785,440 800,440 815,455"/>
<polyline fill="none" stroke="#f2bca8" stroke-width="1.2" opacity="0.85" points="80,480 100,462 120,445 135,450 150,470 170,490 185,498 200,480 212,452 225,462 240,478 260,470 280,458 300,445 320,432 340,424 360,428 375,445 395,435 415,425 435,430 450,455 470,435 500,425 530,425 550,445 570,455 590,440 615,440 640,432 670,428 700,435 730,430 750,455 765,460 785,437 805,438 815,448"/>
<polyline fill="none" stroke="#ff9800" stroke-width="1.3" points="178,508 185,505 193,505"/>
<polyline fill="none" stroke="#ff9800" stroke-width="1.3" points="293,437 317,425 333,430 353,412 367,422 383,432 400,425 417,418 433,428 443,442 467,430 483,422 500,427 512,425 532,418 545,433 565,432 579,433 595,432 612,442 629,433 652,423 672,422 685,423 699,437 725,422 739,428 759,452 775,440 789,430 805,438"/>
<polyline fill="none" stroke="#8e24aa" stroke-width="1.8" points="367,423 383,425 403,418 417,417 437,425"/>
<polyline fill="none" stroke="#8e24aa" stroke-width="1.8" points="467,432 493,425 512,427 532,422 545,425 559,432"/>
<polyline fill="none" stroke="#8e24aa" stroke-width="1.8" points="655,425 679,420 692,427 712,430 729,422 742,430"/>
<polyline fill="none" stroke="#e53935" stroke-width="1.5" points="153,501 165,515 182,538 188,528 195,511"/>
<polyline fill="none" stroke="#e53935" stroke-width="1.5" points="310,410 320,407 333,422 347,417 357,408 367,417 383,420 400,418 413,413 427,422 437,432"/>
<polyline fill="none" stroke="#e53935" stroke-width="1.5" points="453,428 473,417 487,412 500,415 512,417 525,412 539,415 549,430"/>
<polyline fill="none" stroke="#e53935" stroke-width="1.5" points="652,413 665,412 679,417 692,428"/>
<polyline fill="none" stroke="#e53935" stroke-width="1.5" points="712,425 729,415 739,425"/>
<polyline fill="none" stroke="#e53935" stroke-width="1.5" points="789,433 799,430 805,436"/>
<polyline fill="none" stroke="#a040c0" stroke-width="1" points="80,465 88,438 93,465 98,440 103,440 107,420 115,417 122,435 125,442 128,508 133,515 140,492 147,485 152,512 157,502 162,510 167,515 173,492 180,512 188,482 193,502 200,472 205,452 210,428 215,462 223,515 227,488 233,472 240,535 247,488 253,458 257,475 263,468 270,455 277,475 283,458 292,425 300,423 313,410 320,438 328,425 337,415 350,408 358,407 363,428 370,455 372,493 377,445 383,442 393,423 407,415 417,412 423,453 428,432 433,442 440,495 445,452 453,432 467,412 473,408 480,420 493,432 500,453 507,428 512,425 522,408 532,407 542,422 549,455 552,500 559,465 565,452 572,428 579,442 585,425 595,422 602,455 605,492 609,422 615,442 625,418 632,468 637,428 644,442 652,415 659,412 665,418 682,418 692,462 697,472 705,422 715,415 725,415 732,418 739,515 742,448 749,465 755,455 762,428 769,425 775,442 782,412 789,418 795,442 802,442 809,502 812,508 815,482"/>
<g fill="none" stroke="#43a047" stroke-width="2.6" stroke-linejoin="round">
<polyline points="107,432 115,418 123,420"/>
<polyline points="130,493 140,521"/>
<polyline points="153,515 160,502 168,505 175,518"/>
<polyline points="207,440 212,428 215,428"/>
<polyline points="233,483 240,522"/>
<polyline points="297,437 312,412 320,410"/>
<polyline points="337,433 353,408"/>
<polyline points="393,433 407,415 420,418"/>
<polyline points="453,442 473,395 480,408"/>
<polyline points="579,448 585,403 597,425"/>
<polyline points="619,438 625,423"/>
<polyline points="649,438 665,407 675,410"/>
<polyline points="712,435 725,415 732,408"/>
<polyline points="769,445 779,422 789,405 799,428"/>
</g>
<polyline fill="none" stroke="#3b6fe0" stroke-width="1.8" points="80,459 90,458 100,457 112,452 123,448 133,462 143,475 155,490 165,502 173,508 182,510 190,498 200,488 210,480 217,474 225,476 233,478 242,485 250,490 258,486 267,482 280,477 293,472 306,463 320,452 335,440 350,427 357,422 362,432 367,443 377,450 388,449 400,447 410,438 417,432 425,437 433,442 440,448 445,452 455,446 467,438 473,428 478,434 483,440 495,440 505,441 512,440 525,437 533,432 539,428 546,438 552,445 557,453 562,460 570,457 579,453 586,448 592,445 599,450 605,455 614,452 622,448 628,452 635,457 645,452 655,445 662,438 669,432 675,435 682,432 689,430 695,438 702,447 712,448 722,440 734,430 739,435 745,450 752,462 759,470 765,468 775,458 789,447 795,450 802,453 808,458 815,463"/>
<!-- triangles -->
<path fill="#f23645" opacity="0.75" d="M345 405h10l-5 9zM350 405h10l-5 9zM355 405h10l-5 9zM360 405h10l-5 9zM413 405h10l-5 9zM467 405h10l-5 9zM527 405h10l-5 9zM535 405h10l-5 9zM665 405h10l-5 9zM681 405h10l-5 9zM729 405h10l-5 9z"/>
<!-- diamonds -->
<path fill="#ff9800" d="M80 519l4.5 5-4.5 5-4.5-5zM84 519l4.5 5-4.5 5-4.5-5zM88 519l4.5 5-4.5 5-4.5-5zM94 519l4.5 5-4.5 5-4.5-5zM98 519l4.5 5-4.5 5-4.5-5zM102 519l4.5 5-4.5 5-4.5-5zM106 519l4.5 5-4.5 5-4.5-5zM227 519l4.5 5-4.5 5-4.5-5zM326 519l4.5 5-4.5 5-4.5-5zM330 519l4.5 5-4.5 5-4.5-5zM334 519l4.5 5-4.5 5-4.5-5zM376 519l4.5 5-4.5 5-4.5-5zM380 519l4.5 5-4.5 5-4.5-5zM384 519l4.5 5-4.5 5-4.5-5zM388 519l4.5 5-4.5 5-4.5-5zM416 519l4.5 5-4.5 5-4.5-5zM420 519l4.5 5-4.5 5-4.5-5zM424 519l4.5 5-4.5 5-4.5-5zM428 519l4.5 5-4.5 5-4.5-5zM432 519l4.5 5-4.5 5-4.5-5zM436 519l4.5 5-4.5 5-4.5-5zM440 519l4.5 5-4.5 5-4.5-5zM444 519l4.5 5-4.5 5-4.5-5zM448 519l4.5 5-4.5 5-4.5-5zM506 519l4.5 5-4.5 5-4.5-5zM510 519l4.5 5-4.5 5-4.5-5zM514 519l4.5 5-4.5 5-4.5-5zM609 519l4.5 5-4.5 5-4.5-5zM613 519l4.5 5-4.5 5-4.5-5zM617 519l4.5 5-4.5 5-4.5-5zM621 519l4.5 5-4.5 5-4.5-5zM650 519l4.5 5-4.5 5-4.5-5z"/>
<path fill="#22e022" d="M140 519l4.5 5-4.5 5-4.5-5zM144 519l4.5 5-4.5 5-4.5-5zM148 519l4.5 5-4.5 5-4.5-5zM152 519l4.5 5-4.5 5-4.5-5zM156 519l4.5 5-4.5 5-4.5-5zM160 519l4.5 5-4.5 5-4.5-5zM164 519l4.5 5-4.5 5-4.5-5zM240 519l4.5 5-4.5 5-4.5-5zM244 519l4.5 5-4.5 5-4.5-5zM248 519l4.5 5-4.5 5-4.5-5zM252 519l4.5 5-4.5 5-4.5-5zM458 519l4.5 5-4.5 5-4.5-5zM462 519l4.5 5-4.5 5-4.5-5zM466 519l4.5 5-4.5 5-4.5-5zM470 519l4.5 5-4.5 5-4.5-5zM474 519l4.5 5-4.5 5-4.5-5zM478 519l4.5 5-4.5 5-4.5-5zM580 519l4.5 5-4.5 5-4.5-5zM584 519l4.5 5-4.5 5-4.5-5zM588 519l4.5 5-4.5 5-4.5-5zM592 519l4.5 5-4.5 5-4.5-5zM596 519l4.5 5-4.5 5-4.5-5zM666 519l4.5 5-4.5 5-4.5-5zM670 519l4.5 5-4.5 5-4.5-5zM674 519l4.5 5-4.5 5-4.5-5zM678 519l4.5 5-4.5 5-4.5-5zM765 519l4.5 5-4.5 5-4.5-5zM776 519l4.5 5-4.5 5-4.5-5zM780 519l4.5 5-4.5 5-4.5-5zM784 519l4.5 5-4.5 5-4.5-5zM788 519l4.5 5-4.5 5-4.5-5zM792 519l4.5 5-4.5 5-4.5-5z"/>
<path fill="#1c4f9e" d="M171 519l4.5 5-4.5 5-4.5-5zM175 519l4.5 5-4.5 5-4.5-5zM179 519l4.5 5-4.5 5-4.5-5zM183 519l4.5 5-4.5 5-4.5-5z"/>
</g>

<!-- indicator legend -->
<text x="85" y="390" font-size="8.6" fill="#131722" textLength="232" lengthAdjust="spacingAndGlyphs">RW ft. F-MOD (0, 20, 10, 1, 5, 0, 20, 10, 12, 2, 20, 10, 21, 50)</text>
<g font-size="8.6">
<text x="322" y="390" fill="#f5a623">0.00</text><text x="344" y="390" fill="#4caf50">0.00</text><text x="366" y="390" fill="#ab47bc">−14.38</text><text x="395" y="390" fill="#ab47bc">0.00</text><text x="417" y="390" fill="#d17bd6">0.00</text><text x="440" y="390" fill="#ce93d8">0.00</text><text x="460" y="390" fill="#e53935">0.00</text><text x="481" y="390" fill="#3949ab">0.00</text><text x="502" y="390" fill="#66bb6a">−26.98</text><text x="533" y="390" fill="#e57373">23.52</text><text x="559" y="390" fill="#5c8fe6">19.30</text><text x="585" y="390" fill="#ffa726">14.68</text><text x="609" y="390" fill="#ef5350">0.00</text><text x="630" y="390" fill="#3949ab">0.00</text><text x="652" y="390" fill="#3949ab">0.00</text><text x="674" y="390" fill="#5c8fe6">5.72</text><text x="695" y="390" fill="#ef5350">0.00</text><text x="716" y="390" fill="#3949ab">0.00</text>
</g>

<!-- indicator scale -->
<g class="sc">
<text x="904" y="404">75.00</text><text x="904" y="427">50.00</text><text x="904" y="450">25.00</text><text x="904" y="472">0.00</text><text x="904" y="495">-25.00</text><text x="904" y="518">-50.00</text><text x="904" y="541">-75.00</text>
</g>
<rect x="902" y="381" width="39" height="16" rx="3" fill="#fff" stroke="#e0e3eb"/>
<text x="907" y="392.5" font-size="8.6" fill="#131722">USD</text>

<!-- time axis -->
<g class="ax" text-anchor="middle">
<text x="150" y="567">Mar</text><text x="230" y="567">Apr</text><text x="311" y="567">May</text><text x="391" y="567">Jun</text><text x="468" y="567">Jul</text><text x="551" y="567">Aug</text><text x="632" y="567">Sep</text><text x="712" y="567">Oct</text><text x="800" y="567">Nov</text><text x="873" y="567">Dec</text>
</g>
<g fill="#f0f3fa"><circle cx="25" cy="564" r="7"/><circle cx="62" cy="564" r="7"/><circle cx="922" cy="564" r="7"/><circle cx="963" cy="564" r="7"/><circle cx="999" cy="564" r="7"/></g>
<g font-size="7.5" fill="#787b86" text-anchor="middle"><text x="25" y="567">Y</text><text x="62" y="567">Z</text><text x="922" y="567">A</text><text x="963" y="567">B</text><text x="999" y="567">C</text></g>

<!-- TradingView logo -->
<rect x="8" y="588" width="11" height="4.5" fill="#131722"/>
<rect x="13.5" y="588" width="5.5" height="14" fill="#131722"/>
<circle cx="22.8" cy="590.3" r="2.4" fill="#131722"/>
<path d="M26 588H31.5L26.5 602H21Z" fill="#131722"/>
<text x="34" y="601" font-size="16" font-weight="bold" fill="#131722" textLength="84" lengthAdjust="spacingAndGlyphs">TradingView</text>
</svg>
</body></html>
